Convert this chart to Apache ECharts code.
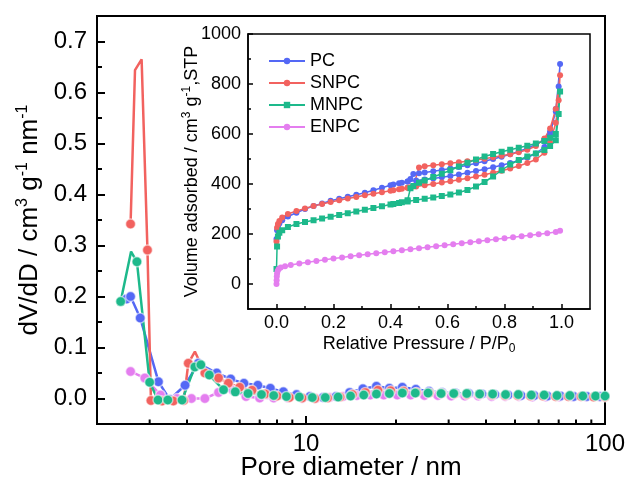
<!DOCTYPE html>
<html>
<head>
<meta charset="utf-8">
<script src="https://cdn.jsdelivr.net/npm/echarts@6/dist/echarts.min.js"></script>
<style>
html,body{margin:0;padding:0;background:#fff;}
#c{width:627px;height:481px;}
</style>
</head>
<body>
<div id="c"></div>
<script>
// ---------- main chart: pore size distribution ----------
const pcX = [2.51, 2.59, 2.79, 3.21, 3.5, 3.94, 4.36, 5.03, 5.6, 6.2, 6.9, 7.6, 8.4, 9.3, 10.3, 11.4, 12.6, 14, 15.5, 17.2, 19, 21, 23.3, 25.8, 28.5, 31.5, 35, 38.7, 42.8, 47.4, 52.4, 58, 64.2, 71, 78.6, 87, 96.3];
const pcY = [0.195, 0.200, 0.158, 0.033, -0.002, 0.026, 0.069, 0.050, 0.038, 0.030, 0.026, 0.020, 0.013, 0.008, 0.004, 0.002, 0.004, 0.012, 0.019, 0.024, 0.020, 0.022, 0.018, 0.014, 0.012, 0.011, 0.010, 0.009, 0.008, 0.007, 0.006, 0.006, 0.005, 0.005, 0.004, 0.004, 0.004];

const snX = [2.59, 2.68, 2.82, 2.95, 3.03, 3.3, 3.6, 3.9, 4.04, 4.25, 4.59, 5.1, 5.5, 6.0, 6.6, 7.3, 8.0, 8.8, 9.7, 10.7, 11.8, 13, 14.3, 15.8, 17.4, 19.2, 21.2, 23.4, 25.8, 28.4, 31.3, 34.5, 38, 42, 46.3, 51, 56.3, 62, 68.4, 75.4, 83.2, 91.7, 100];
const snY = [0.342, 0.644, 0.665, 0.291, -0.004, -0.005, -0.005, -0.004, 0.069, 0.092, 0.050, 0.040, 0.030, 0.022, 0.016, 0.009, 0.005, 0.002, 0.001, 0.000, 0.001, 0.003, 0.008, 0.012, 0.016, 0.015, 0.014, 0.012, 0.011, 0.010, 0.009, 0.008, 0.008, 0.007, 0.006, 0.006, 0.005, 0.005, 0.004, 0.004, 0.004, 0.003, 0.003];
const snNoMark = [1, 2, 9];

const mnX = [2.40, 2.60, 2.72, 3.0, 3.2, 3.45, 3.85, 4.25, 4.45, 4.75, 5.3, 5.8, 6.4, 7.1, 7.8, 8.6, 9.5, 10.5, 11.6, 12.8, 14.1, 15.6, 17.2, 19, 21, 23.2, 25.6, 28.3, 31.2, 34.5, 38.1, 42.1, 46.5, 51.3, 56.7, 62.6, 69.1, 76.3, 84.3, 93, 100];
const mnY = [0.190, 0.288, 0.268, 0.032, -0.003, -0.003, -0.003, 0.062, 0.066, 0.046, 0.017, 0.013, 0.010, 0.008, 0.006, 0.004, 0.003, 0.002, 0.002, 0.003, 0.005, 0.007, 0.009, 0.010, 0.011, 0.011, 0.011, 0.010, 0.010, 0.010, 0.009, 0.009, 0.008, 0.008, 0.007, 0.007, 0.006, 0.006, 0.005, 0.005, 0.005];
const mnNoMark = [1];

const enX = [2.59, 2.89, 3.26, 3.7, 4.14, 4.59, 5.1, 5.7, 6.3, 7.0, 7.8, 8.7, 9.7, 10.8, 12, 13.3, 14.8, 16.4, 18.2, 20.2, 22.4, 24.9, 27.6, 30.6, 34, 37.7, 41.8, 46.4, 51.5, 57.1, 63.4, 70.3, 78, 86.5, 96];
const enY = [0.053, 0.040, 0.007, 0.000, 0.000, 0.000, 0.012, 0.016, 0.004, 0.001, 0.001, 0.001, 0.000, 0.000, 0.002, 0.004, 0.006, 0.007, 0.007, 0.007, 0.007, 0.006, 0.006, 0.005, 0.005, 0.005, 0.004, 0.004, 0.004, 0.003, 0.003, 0.003, 0.003, 0.003, 0.003];

const mainXMajor = [10, 100];
const mainXMinor = [2, 3, 4, 5, 6, 7, 8, 9, 20, 30, 40, 50, 60, 70, 80, 90];
const mainYMajor = [0, 0.1, 0.2, 0.3, 0.4, 0.5, 0.6, 0.7];
const mainYMinor = [0.05, 0.15, 0.25, 0.35, 0.45, 0.55, 0.65];

// ---------- inset: N2 isotherms ----------
const adsX = [0, 0.002, 0.005, 0.01, 0.02, 0.04, 0.07, 0.1, 0.13, 0.16, 0.19, 0.22, 0.25, 0.28, 0.31, 0.34, 0.37, 0.40, 0.43, 0.46, 0.49, 0.52, 0.55, 0.58, 0.61, 0.64, 0.67, 0.70, 0.73, 0.76, 0.79, 0.82, 0.85, 0.88, 0.91, 0.94, 0.96, 0.98, 0.99, 0.995];
const desX = [0.98, 0.96, 0.94, 0.91, 0.88, 0.85, 0.82, 0.79, 0.76, 0.73, 0.70, 0.67, 0.64, 0.61, 0.58, 0.55, 0.52, 0.50, 0.48, 0.47, 0.46, 0.44, 0.41];

const pcAds = [180, 215, 230, 242, 255, 270, 285, 300, 312, 322, 333, 341, 349, 357, 365, 375, 385, 395, 403, 410, 414, 418, 422, 427, 432, 438, 445, 452, 459, 467, 475, 484, 494, 506, 522, 548, 595, 700, 790, 880];
const pcDes = [690, 610, 578, 558, 543, 530, 519, 509, 500, 491, 483, 475, 468, 462, 456, 451, 446, 443, 440, 420, 410, 405, 398];

const snAds = [170, 225, 240, 252, 266, 280, 292, 302, 312, 320, 328, 335, 342, 348, 355, 361, 367, 373, 379, 385, 390, 395, 400, 406, 411, 417, 423, 430, 437, 445, 453, 462, 472, 484, 498, 525, 565, 645, 735, 835];
const snDes = [700, 622, 582, 552, 537, 527, 519, 513, 507, 501, 496, 491, 487, 483, 479, 475, 471, 466, 390, 387, 385, 381, 375];

const mnAds = [60, 150, 190, 205, 215, 228, 240, 248, 255, 262, 269, 276, 283, 290, 297, 304, 311, 318, 324, 330, 336, 341, 346, 352, 358, 366, 376, 390, 408, 430, 455, 478, 496, 510, 522, 536, 552, 575, 680, 770];
const mnDes = [600, 585, 572, 562, 553, 545, 537, 529, 520, 510, 498, 485, 470, 455, 441, 428, 414, 405, 392, 383, 335, 327, 320];

const enIsoX = [0, 0.0005, 0.001, 0.002, 0.004, 0.008, 0.015, 0.03, 0.05, 0.08, 0.11, 0.14, 0.17, 0.20, 0.23, 0.26, 0.29, 0.32, 0.35, 0.38, 0.41, 0.44, 0.47, 0.50, 0.53, 0.56, 0.59, 0.62, 0.65, 0.68, 0.71, 0.74, 0.77, 0.80, 0.83, 0.86, 0.89, 0.92, 0.95, 0.98, 0.995];
const enIsoY = [0, 15, 30, 42, 52, 60, 66, 71, 76, 82, 87, 92, 97, 102, 106, 111, 115, 119, 123, 127, 131, 135, 139, 143, 147, 151, 155, 159, 163, 167, 171, 175, 179, 183, 187, 191, 195, 199, 203, 208, 213];

const insetXMajor = [0, 0.2, 0.4, 0.6, 0.8, 1.0];
const insetXMinor = [0.1, 0.3, 0.5, 0.7, 0.9];
const insetYMajor = [0, 200, 400, 600, 800, 1000];
const insetYMinor = [100, 300, 500, 700, 900];

const names = ['PC', 'SNPC', 'MNPC', 'ENPC'];
const colors = { PC: '#5468f5', SNPC: '#f2625f', MNPC: '#1db98b', ENPC: '#e47eef' };

// ---------- build ----------
const FONT = '"Liberation Sans", Arial, sans-serif';
function pairs(xs, ys) { return xs.map((x, i) => [x, ys[i]]); }

const chart = echarts.init(document.getElementById('c'), null, { renderer: 'canvas' });

function axis(type, gridIndex, min, max, lw, ticks, tlen, extra) {
  return Object.assign({
    type: type, gridIndex: gridIndex, min: min, max: max,
    axisLine: { show: true, onZero: false, lineStyle: { color: '#000', width: lw } },
    axisTick: { show: true, inside: true, length: tlen, customValues: ticks, lineStyle: { color: '#000', width: lw } },
    splitLine: { show: false },
    nameMoveOverlap: false
  }, extra || {});
}

const xAxes = [
  axis('log', 0, 2, 100, 2, mainXMajor, 8, {
    logBase: 10,
    axisLabel: { customValues: mainXMajor, fontSize: 24, color: '#000', fontFamily: FONT, margin: 8 },
    name: 'Pore diameter / nm', nameLocation: 'middle', nameGap: 31,
    nameTextStyle: { fontSize: 26, color: '#000', fontFamily: FONT }
  }),
  axis('value', 1, -0.1, 1.1, 1.5, insetXMajor, 5, {
    axisLabel: { customValues: insetXMajor, fontSize: 18, color: '#000', fontFamily: FONT, margin: 5,
      formatter: v => Number(v).toFixed(1) },
    name: '{t|Relative Pressure / P/P}{b|0}', nameLocation: 'middle', nameGap: 24,
    nameTextStyle: { rich: { t: { fontSize: 18, color: '#000', fontFamily: FONT, lineHeight: 22 },
      b: { fontSize: 12, color: '#000', fontFamily: FONT, verticalAlign: 'bottom', lineHeight: 22 } } }
  })
];

const yAxes = [
  axis('value', 0, -0.05, 0.75, 2, mainYMajor, 8, {
    axisLabel: { customValues: mainYMajor, fontSize: 24, color: '#000', fontFamily: FONT, margin: 10,
      formatter: v => Number(v).toFixed(1) },
    name: '{t|dV/dD / cm}{s|3}{t| g}{s|-1}{t| nm}{s|-1}', nameLocation: 'middle', nameGap: 52,
    nameTextStyle: { rich: { t: { fontSize: 26, color: '#000', fontFamily: FONT, lineHeight: 30 },
      s: { fontSize: 16, color: '#000', fontFamily: FONT, verticalAlign: 'top', lineHeight: 30 } } }
  }),
  axis('value', 1, -100, 1000, 1.5, insetYMajor, 5, {
    axisLabel: { customValues: insetYMajor, fontSize: 18, color: '#000', fontFamily: FONT, margin: 7,
      formatter: v => String(Math.round(v)) },
    name: '{t|Volume adsorbed / cm}{s|3}{t| g}{s|-1}{t|,STP}', nameLocation: 'middle', nameGap: 45,
    nameTextStyle: { rich: { t: { fontSize: 18, color: '#000', fontFamily: FONT, lineHeight: 22 },
      s: { fontSize: 12, color: '#000', fontFamily: FONT, verticalAlign: 'top', lineHeight: 22 } } }
  })
];

const insetData = {
  PC: pairs(adsX, pcAds).concat(pairs(desX, pcDes)),
  SNPC: pairs(adsX, snAds).concat(pairs(desX, snDes)),
  MNPC: pairs(adsX, mnAds).concat(pairs(desX, mnDes)),
  ENPC: pairs(enIsoX, enIsoY)
};
const insetSymbol = { PC: 'circle', SNPC: 'circle', MNPC: 'rect', ENPC: 'circle' };

const series = [];
names.forEach(n => {
  series.push({
    name: n, type: 'line', xAxisIndex: 1, yAxisIndex: 1,
    data: insetData[n], symbol: insetSymbol[n], symbolSize: 6, showAllSymbol: true,
    lineStyle: { color: colors[n], width: 1.5 }, itemStyle: { color: colors[n] },
    z: 3
  });
});
const mainSets = [
  ['ENPC', enX, enY, []],
  ['PC', pcX, pcY, []],
  ['SNPC', snX, snY, snNoMark],
  ['MNPC', mnX, mnY, mnNoMark]
];
mainSets.forEach(([n, xs, ys, noMark]) => {
  const pts = pairs(xs, ys).map((p, i) => noMark.indexOf(i) >= 0 ? { value: p, symbol: 'none' } : p);
  series.push({
    name: n, type: 'line', xAxisIndex: 0, yAxisIndex: 0,
    data: pts, symbol: 'circle', symbolSize: 10, showAllSymbol: true,
    lineStyle: { color: colors[n], width: 2.5 },
    itemStyle: { color: colors[n], borderColor: 'rgba(255,255,255,0.55)', borderWidth: 1.5 },
    z: 2
  });
});

// minor inward tick marks drawn through the axes' own scales (api.coord)
function tickSeries(gi, dir, base, vals, len, w) {
  return {
    type: 'custom', xAxisIndex: gi, yAxisIndex: gi, clip: false, silent: true, z: 10,
    data: vals.map(v => dir === 'x' ? [v, base] : [base, v]),
    renderItem: (params, api) => {
      const p = api.coord([api.value(0), api.value(1)]);
      const shape = dir === 'x'
        ? { x1: p[0], y1: p[1], x2: p[0], y2: p[1] - len }
        : { x1: p[0], y1: p[1], x2: p[0] + len, y2: p[1] };
      return { type: 'line', shape: shape, style: { stroke: '#000', lineWidth: w } };
    }
  };
}
series.push(
  tickSeries(0, 'x', -0.05, mainXMinor, 4.5, 2),
  tickSeries(0, 'y', 2, mainYMinor, 5, 2),
  tickSeries(1, 'x', -100, insetXMinor, 3, 1.5),
  tickSeries(1, 'y', -0.1, insetYMinor, 3, 1.5)
);

chart.setOption({
  animation: false,
  grid: [
    { left: 97, top: 16, width: 508, height: 408, outerBoundsMode: 'none',
      show: true, borderColor: '#000', borderWidth: 2 },
    { left: 248, top: 34, width: 342, height: 275, outerBoundsMode: 'none',
      show: true, borderColor: '#000', borderWidth: 1.5 }
  ],
  xAxis: xAxes,
  yAxis: yAxes,
  legend: {
    data: names, orient: 'vertical', left: 263, top: 47,
    itemWidth: 36, itemHeight: 8, itemGap: 4,
    textStyle: { fontSize: 18, color: '#000', fontFamily: FONT },
    selectedMode: false
  },
  series: series
});
</script>
</body>
</html>
